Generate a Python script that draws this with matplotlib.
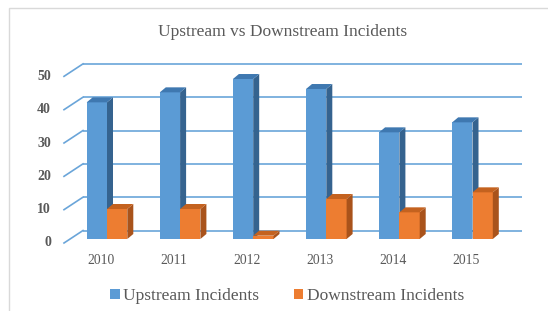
import matplotlib
matplotlib.use("Agg")
import matplotlib.pyplot as plt
from matplotlib.patches import Polygon, Rectangle, Patch
import numpy as np

# ---- data ----
years = ["2010", "2011", "2012", "2013", "2014", "2015"]
upstream = [41, 44, 48, 45, 32, 35]
downstream = [9, 9, 1, 12, 8, 14]
yticks = [0, 10, 20, 30, 40, 50]
title = "Upstream vs Downstream Incidents"
series_names = ["Upstream Incidents", "Downstream Incidents"]

# ---- style ----
W, H, DPI = 548, 311, 100
blue_front, blue_side, blue_top = "#5B9BD5", "#35638F", "#3F78B0"
orange_front, orange_side, orange_top = "#ED7D31", "#A9531B", "#C4621F"
grid_color = "#6AA5D9"
text_color = "#595959"
serif = ["Liberation Serif", "DejaVu Serif"]

# pixel geometry of the bar plane: x = category index, y = value
PX0, PXSTEP = 107.0, 73.1   # px of category 0 pair center, px per category
PY0, PYSTEP = 239.0, 3.333  # px (from top) of value 0, px per unit

fig = plt.figure(figsize=(W / DPI, H / DPI), dpi=DPI)
ax = fig.add_axes([0, 0, 1, 1])
ax.set_xlim(-PX0 / PXSTEP, (W - PX0) / PXSTEP)
ax.set_ylim((PY0 - H) / PYSTEP, PY0 / PYSTEP)
ax.axis("off")

# depth offsets (data units) relative to bar plane
bw = 20.3 / PXSTEP
bar_dx, bar_dy = 6.0 / PXSTEP, 5.0 / PYSTEP
back_dx, back_dy = 13.0 / PXSTEP, 8.5 / PYSTEP
front_dx, front_dy = -6.0 / PXSTEP, -4.0 / PYSTEP
wall_left = (83 - PX0) / PXSTEP
wall_right = (522 - PX0) / PXSTEP

# back wall gridlines + side diagonals
for v in yticks:
    ax.plot([wall_left, wall_right], [v + back_dy, v + back_dy],
            color=grid_color, lw=1.2, zorder=1, solid_capstyle="butt")
    ax.plot([wall_left - back_dx + front_dx, wall_left],
            [v + front_dy, v + back_dy], color=grid_color, lw=1.2, zorder=1)
    ax.text((51 - PX0) / PXSTEP, v + front_dy, str(v), ha="right", va="center",
            fontsize=10, color=text_color, family=serif, fontweight="bold")

x = np.arange(len(years))


def draw_bars(xs, vals, front, side, top, z):
    ax.bar(xs, vals, width=bw, align="edge", color=front, zorder=z, linewidth=0)
    for x0, v in zip(xs, vals):
        x1 = x0 + bw
        ax.add_patch(Polygon([(x1, 0), (x1 + bar_dx, bar_dy), (x1 + bar_dx, v + bar_dy), (x1, v)],
                             closed=True, facecolor=side, edgecolor="none", zorder=z))
        ax.add_patch(Polygon([(x0, v), (x0 + bar_dx, v + bar_dy), (x1 + bar_dx, v + bar_dy), (x1, v)],
                             closed=True, facecolor=top, edgecolor="none", zorder=z))


draw_bars(x - bw, upstream, blue_front, blue_side, blue_top, 3)
draw_bars(x, downstream, orange_front, orange_side, orange_top, 4)

# category labels on the front plane
for xi, lab in zip(x, years):
    ax.text(xi + front_dx, (PY0 - 260) / PYSTEP, lab, ha="center", va="center",
            fontsize=9.8, color=text_color, family=serif)

# title
fig.text(283 / W, 1 - 31.5 / H, title, ha="center", va="center",
         fontsize=12.5, color=text_color, family=serif)

# legend
handles = [Patch(facecolor=blue_front), Patch(facecolor=orange_front)]
fig.legend(handles, series_names, loc="center", bbox_to_anchor=(287 / W, 1 - 296 / H),
           ncol=2, frameon=False, handlelength=0.55, handleheight=0.55,
           handletextpad=0.2, columnspacing=2.0,
           prop={"family": serif, "size": 12.5}, labelcolor=text_color)

# outer chart-area border
fig.patches.append(Rectangle((9 / W, -0.1), 1.2, 1 - 8 / H + 0.1, transform=fig.transFigure,
                             fill=False, edgecolor="#D9D9D9", lw=1.0, zorder=0))

fig.savefig("out.png", dpi=DPI, facecolor="white")
